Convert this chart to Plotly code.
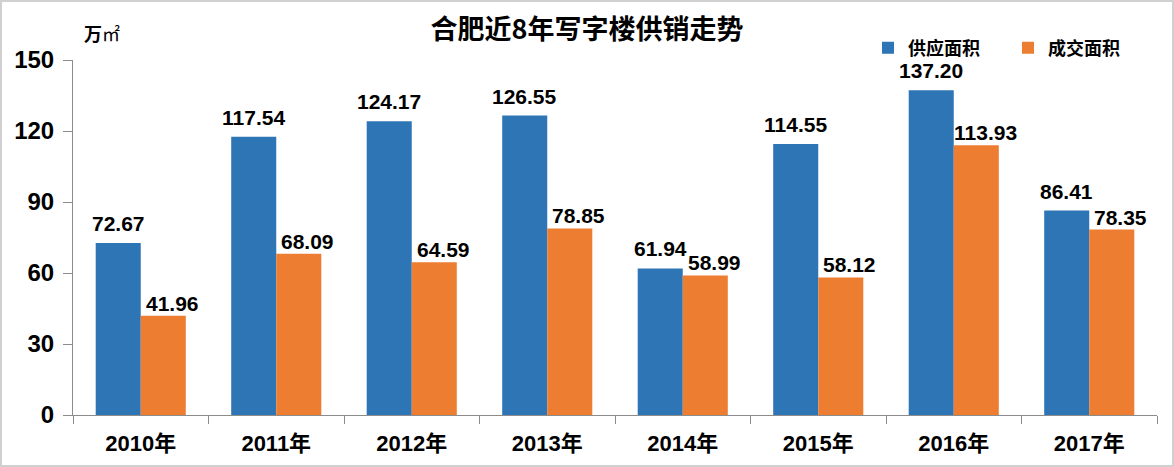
import plotly.graph_objects as go

years = ["2010年", "2011年", "2012年", "2013年", "2014年", "2015年", "2016年", "2017年"]
supply = [72.67, 117.54, 124.17, 126.55, 61.94, 114.55, 137.20, 86.41]
deal = [41.96, 68.09, 64.59, 78.85, 58.99, 58.12, 113.93, 78.35]
series_names = ["供应面积", "成交面积"]
y_ticks = [0, 30, 60, 90, 120, 150]

NUM = "Liberation Sans, Arial, sans-serif"
MIX = "Liberation Sans, Noto Sans CJK SC, sans-serif"
CJK = "Noto Sans CJK SC, Liberation Sans, sans-serif"

W, H = 1174, 467
L, R, T, B = 73, 17, 60, 52
pw, ph = W - L - R, H - T - B
BARGAP = 0.335
bar_px = pw / len(years) * (1 - BARGAP) / 2  # width of one bar in px

fig = go.Figure()
fig.add_trace(go.Bar(x=years, y=supply, name=series_names[0],
                     marker_color="#2E75B6", marker_line_width=0))
fig.add_trace(go.Bar(x=years, y=deal, name=series_names[1],
                     marker_color="#ED7D31", marker_line_width=0))

annotations = []
for yr, v in zip(years, supply):
    annotations.append(dict(x=yr, y=v, xref="x", yref="y", text=f"{v:.2f}",
                            showarrow=False, xanchor="center", yanchor="bottom",
                            xshift=-bar_px / 2, yshift=6,
                            font=dict(family=NUM, size=21, color="black", weight="bold")))
for yr, v in zip(years, deal):
    annotations.append(dict(x=yr, y=v, xref="x", yref="y", text=f"{v:.2f}",
                            showarrow=False, xanchor="center", yanchor="bottom",
                            xshift=bar_px / 2 + 9, yshift=-1,
                            font=dict(family=NUM, size=21, color="black", weight="bold")))
annotations.append(dict(text="<b>万</b>㎡", x=(82 - L) / pw, y=1 + (T - 33) / ph,
                        xref="paper", yref="paper", xanchor="left", yanchor="middle",
                        showarrow=False, font=dict(family=CJK, size=18, color="black")))

fig.update_layout(
    width=W, height=H,
    margin=dict(l=L, r=R, t=T, b=B, autoexpand=False),
    paper_bgcolor="white", plot_bgcolor="white",
    barmode="group", bargap=BARGAP, bargroupgap=0,
    showlegend=True,
    legend=dict(orientation="h", x=(868 - L) / pw, y=1 + (T - 48) / ph,
                xanchor="left", yanchor="middle",
                font=dict(family=CJK, size=18, color="black", weight="bold"),
                bgcolor="rgba(0,0,0,0)", itemwidth=30,
                entrywidth=95, entrywidthmode="pixels"),
    title=dict(text="<b>合肥近8年写字楼供销走势</b>", x=0.5, xanchor="center",
               y=1 - 30 / H, yanchor="middle",
               font=dict(family=CJK, size=27, color="black")),
    xaxis=dict(type="category", showline=True, linecolor="#8c8c8c", linewidth=1,
               ticks="outside", tickson="boundaries", ticklen=8, tickcolor="#8c8c8c",
               ticklabelstandoff=9,
               tickfont=dict(family=MIX, size=22, color="black", weight="bold"),
               showgrid=False),
    yaxis=dict(range=[0, 150], tickvals=y_ticks, showline=True, linecolor="#8c8c8c",
               linewidth=1, ticks="outside", ticklen=9, tickcolor="#8c8c8c",
               ticklabelstandoff=4,
               tickfont=dict(family=NUM, size=24, color="black", weight="bold"),
               showgrid=False, zeroline=False),
    annotations=annotations,
    shapes=[dict(type="rect", xref="paper", yref="paper",
                 x0=(-L + 1) / pw, x1=1 + (R - 1) / pw,
                 y0=(-B + 1) / ph, y1=1 + (T - 1) / ph,
                 line=dict(color="#d0d0d0", width=2), fillcolor="rgba(0,0,0,0)",
                 layer="below")],
)

fig.write_html("out.html", config={"displayModeBar": False},
               post_script="document.body.style.margin='0';document.body.style.padding='0';")
